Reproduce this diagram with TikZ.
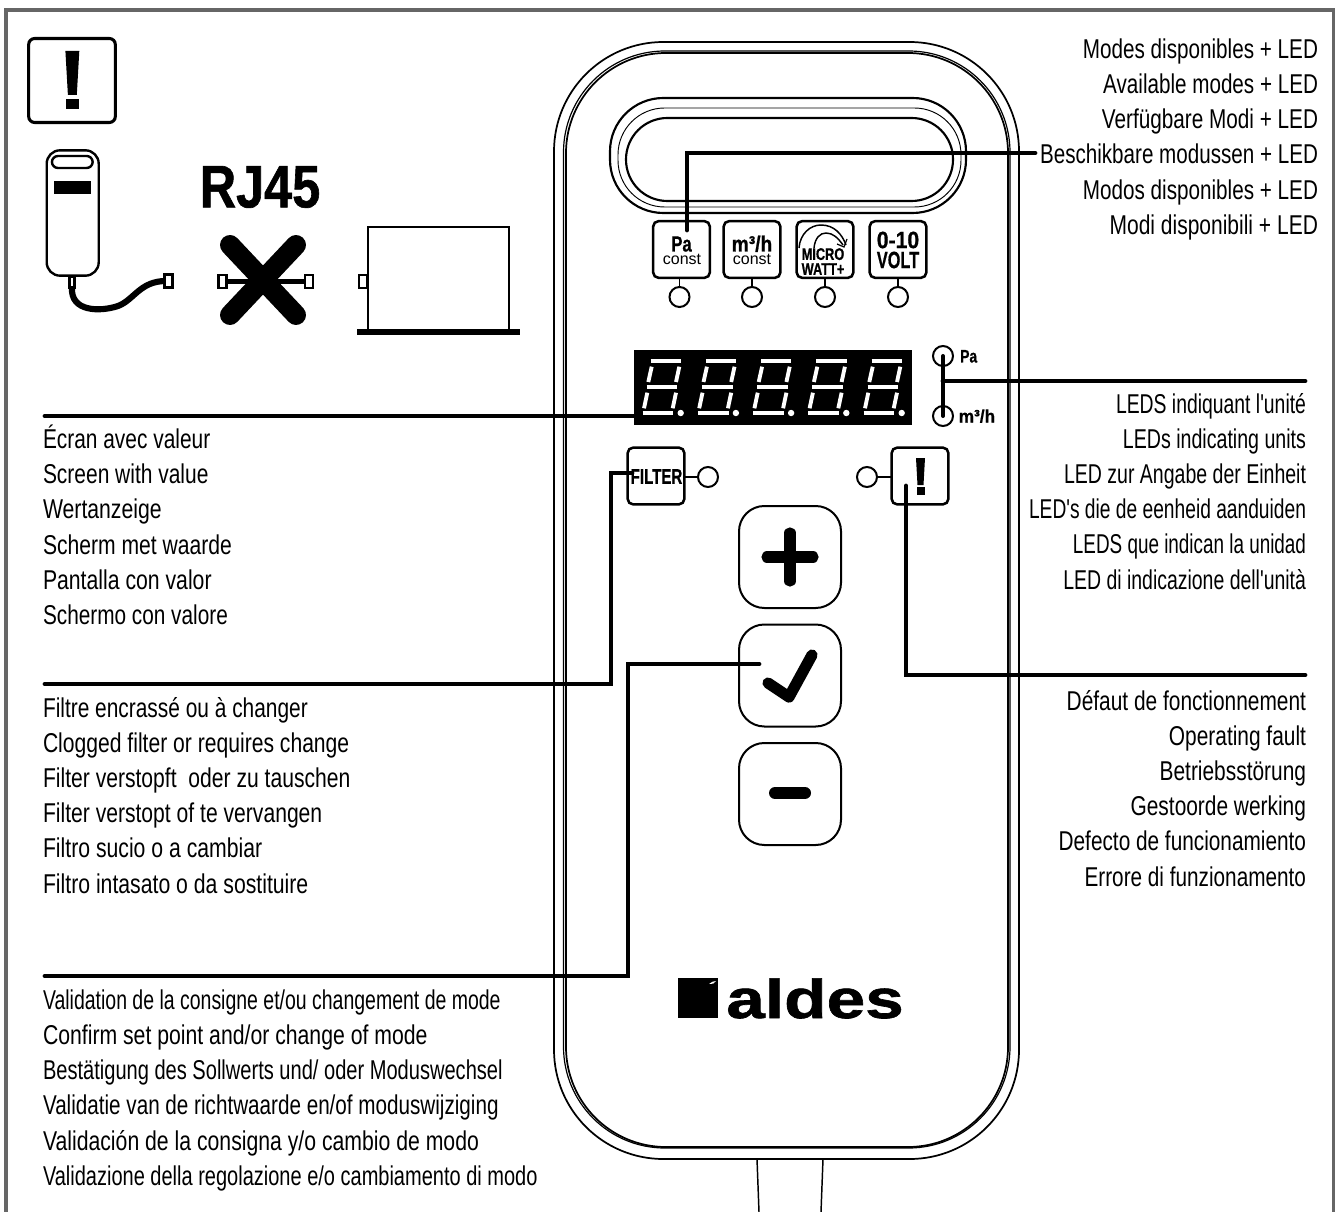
\documentclass[tikz,border=0pt]{standalone}
\usepackage{fontspec}
\usepackage{graphicx}
\setmainfont{Liberation Sans}
\newfontfamily\narrowf{Liberation Sans}[FakeStretch=0.78]
\newfontfamily\condf{Liberation Sans}[FakeStretch=0.76,FakeBold=0.6]
\newfontfamily\rjf{Liberation Sans}[FakeStretch=0.84,FakeBold=1]
\newfontfamily\logof{Liberation Sans}[FakeStretch=1.27,FakeBold=1.2]
\newcommand{\sx}[2]{\scalebox{#1}[1]{#2}}
\definecolor{framegray}{HTML}{666666}
\tikzset{
  x=0.75pt,y=-0.75pt,
  leader/.style={line width=3.6pt,line cap=round,line join=miter},
  label/.style={inner sep=0,outer sep=0,font=\narrowf\fontsize{20.4}{26.4}\selectfont},
  leftlabel/.style={label,anchor=north west,align=left},
  rightlabel/.style={label,anchor=north east,align=right},
  keybox/.style={draw,line width=1.9pt,rounded corners=4pt,inner sep=0,minimum width=42.5pt,minimum height=42.5pt},
  bigkey/.style={draw,line width=1.5pt,rounded corners=19pt,inner sep=0,minimum width=76.5pt,minimum height=76.5pt},
  led/.style={draw,circle,line width=1.5pt,inner sep=0,minimum size=15pt,fill=white},
  stem/.style={line width=1.3pt},
  plug/.style={draw,line width=1.8pt,fill=white,inner sep=0,minimum width=6pt,minimum height=9.6pt},
  keytext/.style={inner sep=0,outer sep=0,align=center},
  seg/.style={draw=white,line width=2.9pt},
}
\begin{document}
\begin{tikzpicture}
\useasboundingbox (0,0) rectangle (1338,1212);
% frame (open at the bottom)
\draw[framegray,line width=2.4pt] (6,1212) -- (6,10) -- (1333.5,10) -- (1333.5,1212);

% warning icon
\node[draw,line width=2.3pt,rounded corners=4.5pt,inner sep=0,minimum width=65pt,minimum height=63pt] (warnbox) at (72,80.5) {};
\fill (65.4,51) -- (79.3,51) -- (76.8,95) -- (67.9,95) -- cycle;
\fill (66,99.5) rectangle (78.6,109);

% small remote icon
\node[plug,minimum width=4pt,minimum height=8pt] (remplug) at (72,282) {};
\draw[line width=4.6pt] (72,287) .. controls (70,312) and (100,312) .. (118,306) .. controls (134,300) and (140,281) .. (166,281);
\node[draw,line width=1.8pt,rounded corners=10pt,fill=white,inner sep=0,minimum width=39pt,minimum height=94pt] (remote) at (72.7,213) {};
\node[draw,line width=1.8pt,rounded corners=4.5pt,inner sep=0,minimum width=30.5pt,minimum height=9pt] (rempill) at (72.3,162) {};
\fill (53.6,181) rectangle (91,194);
\node[plug] (cableend) at (168.5,281) {};

% RJ45
\node[inner sep=0,font=\rjf\bfseries\fontsize{45}{45}\selectfont] (rj) at (260,187) {RJ45};
\node[plug] (xl) at (222.5,281.5) {};
\node[plug] (xr) at (309,281.5) {};
\draw[line width=4.4pt] (xl) -- (xr);
\draw[line width=15pt,line cap=round] (230,245) -- (296,315);
\draw[line width=15pt,line cap=round] (296,245) -- (230,315);

% unit box
\node[plug] (boxplug) at (363,281.5) {};
\node[draw,line width=1.9pt,inner sep=0,minimum width=106pt,minimum height=78pt] (unit) at (438.5,279) {};
\draw[line width=3.8pt] (357,332) -- (520,332);

% device body
\draw[line width=1.3pt,rounded corners=82pt] (554,1159) rectangle (1019,42);
\draw[line width=0.9pt,rounded corners=76pt] (563.5,1148) rectangle (1010,51);
\draw[line width=1.3pt,rounded corners=75pt] (566,1147) rectangle (1008,53);
\draw[line width=1.1pt] (757,1159) -- (759,1212);
\draw[line width=1.1pt] (823,1159) -- (821,1212);

% window
\draw[line width=1.6pt,rounded corners=40pt] (610,213) rectangle (966,98);
\draw[line width=0.7pt,rounded corners=35pt] (618,207) rectangle (961,108);
\draw[line width=1.6pt,rounded corners=31pt] (626,201) rectangle (953,118);

% mode keys
\node[keybox] (kpa) at (681.5,249.5) {};
\node[keybox] (kmh) at (752,249.5) {};
\node[keybox] (kmw) at (825,249.5) {};
\node[keybox] (kv) at (898,249.5) {};
\node[keytext,anchor=base,font=\condf\bfseries\fontsize{16.5}{16.5}\selectfont] (tpa) at (681.5,251.5) {Pa};
\node[keytext,anchor=base,font=\fontsize{12}{12}\selectfont] (cpa) at (682,265) {const};
\node[keytext,anchor=base,font=\condf\bfseries\fontsize{16.5}{16.5}\selectfont] (tmh) at (752,251.5) {\sx{1.15}{m³/h}};
\node[keytext,anchor=base,font=\fontsize{12}{12}\selectfont] (cmh) at (752,265) {const};
\node[keytext,font=\condf\bfseries\fontsize{12.6}{11.2}\selectfont] (tmw) at (823,261.5) {MICRO\\WATT+};
\node[keytext,font=\condf\bfseries\fontsize{17.7}{15}\selectfont] (tv) at (898,250) {\sx{1.18}{0-10}\\\sx{.91}{VOLT}};
\draw[line width=1.1pt] (799,248) .. controls (800,234) and (810,225) .. (821,225) .. controls (834,225) and (842,234) .. (846,245);
\draw[line width=1.1pt] (814,248) .. controls (815,238) and (820,233) .. (826,233) .. controls (833,233) and (838,238) .. (843,245);
\draw[line width=0.9pt] (837,244) -- (844,247) -- (847,239);

\node[led] (lpa) at (679.5,297) {};
\node[led] (lmh) at (752,297) {};
\node[led] (lmw) at (825,297) {};
\node[led] (lv) at (898,297) {};
\draw[stem] (679.5,278) -- (lpa.north);
\draw[stem] (kmh.south) -- (lmh.north);
\draw[stem] (kmw.south) -- (lmw.north);
\draw[stem] (kv.south) -- (lv.north);

% seven segment display
\fill (634,350) rectangle (912,425);
\foreach \d in {0,55.2,110.4,165.6,221}{
  \begin{scope}[xshift=\d*0.75pt]
    \draw[seg] (650.7,360.7) -- (681,360.7);
    \draw[seg] (646.7,387) -- (677.3,387);
    \draw[seg] (642.7,412.7) -- (673.3,412.7);
    \draw[seg] (651.7,366.7) -- (648.3,382);
    \draw[seg] (679.3,366.7) -- (676,382);
    \draw[seg] (647.3,392.7) -- (644,408.3);
    \draw[seg] (676,392.7) -- (672.7,408.3);
    \fill[white] (680.7,413) circle (2.4pt);
  \end{scope}
}

% unit LEDs
\node[led] (lunitpa) at (943,356) {};
\node[led] (lunitmh) at (943,416) {};
\node[inner sep=0,anchor=base west,font=\condf\bfseries\fontsize{13.6}{13.6}\selectfont] (tunitpa) at (960,362.5) {Pa};
\node[inner sep=0,anchor=base west,font=\condf\bfseries\fontsize{13.6}{13.6}\selectfont] (tunitmh) at (958.5,422.5) {\sx{1.25}{m³/h}};

% filter and fault keys
\node[keybox] (kfilter) at (656,476) {};
\node[keytext,font=\condf\bfseries\fontsize{16}{16}\selectfont] (tfilter) at (656.5,476.5) {\sx{.93}{FILTER}};
\node[led] (lfilter) at (708,477) {};
\draw[stem] (684,477) -- (lfilter.west);
\node[keybox] (kfault) at (920,476) {};
\node[led] (lfault) at (867,477) {};
\draw[stem] (lfault.east) -- (892,477);
\fill (916,458) -- (925,458) -- (923.5,485) -- (917.5,485) -- cycle;
\fill (916.5,487) rectangle (924.5,495);

% + check - keys
\node[bigkey] (kplus) at (790,557) {};
\node[bigkey] (kcheck) at (790,675.5) {};
\node[bigkey] (kminus) at (790,794) {};
\draw[line width=8.4pt,line cap=round] (767,557) -- (813,557);
\draw[line width=8.4pt,line cap=round] (790,533) -- (790,581);
\draw[line width=8.4pt,line cap=round,line join=round] (768,683) -- (789,697) -- (812,655);
\draw[line width=9pt,line cap=round] (775,793) -- (805,793);

% logo
\fill (678,978) rectangle (718,1018);
\fill[white] (709,984) .. controls (711,982) and (714,981) .. (716,981) .. controls (715,983) and (712,985) .. (709,984) -- cycle;
\node[inner sep=0,anchor=base west,font=\logof\bfseries\fontsize{41}{41}\selectfont] (logo) at (726,1018) {aldes};

% leaders
\coordinate (paTip) at (687,230);
\coordinate (paCorner) at (687,153);
\coordinate (paEnd) at (1035,153);
\draw[leader] (paTip) -- (paCorner) -- (paEnd);
\coordinate (dispL) at (634,416);
\coordinate (dispEnd) at (45,416);
\draw[leader] (dispL) -- (dispEnd);
\coordinate (unitJoin) at (943,381);
\coordinate (unitEnd) at (1305,381);
\draw[line width=3pt,line cap=round] (lunitpa.center) -- (lunitmh.center);
\draw[leader] (unitJoin) -- (unitEnd);
\coordinate (filTip) at (632,473);
\coordinate (filC1) at (611,473);
\coordinate (filC2) at (611,684);
\coordinate (filEnd) at (45,684);
\draw[leader] (filTip) -- (filC1) -- (filC2) -- (filEnd);
\coordinate (chkTip) at (759,664);
\coordinate (chkC1) at (628,664);
\coordinate (chkC2) at (628,976);
\coordinate (chkEnd) at (45,976);
\draw[leader] (chkTip) -- (chkC1) -- (chkC2) -- (chkEnd);
\coordinate (fauTip) at (906,486);
\coordinate (fauC) at (906,675);
\coordinate (fauEnd) at (1305,675);
\draw[leader] (fauTip) -- (fauC) -- (fauEnd);

% labels
\node[rightlabel] (modes) at (1318,38.5) {\sx{.975}{Modes disponibles + LED}\\\sx{.973}{Available modes + LED}\\\sx{.977}{Verfügbare Modi + LED}\\\sx{.972}{Beschikbare modussen + LED}\\\sx{.975}{Modos disponibles + LED}\\\sx{.99}{Modi disponibili + LED}};
\node[rightlabel] (units) at (1306,393) {\sx{.913}{LEDS indiquant l'unité}\\\sx{.924}{LEDs indicating units}\\\sx{.92}{LED zur Angabe der Einheit}\\\sx{.905}{LED's die de eenheid aanduiden}\\\sx{.89}{LEDS que indican la unidad}\\\sx{.917}{LED di indicazione dell'unità}};
\node[rightlabel] (fault) at (1306,690) {\sx{.985}{Défaut de fonctionnement}\\\sx{.985}{Operating fault}\\\sx{.985}{Betriebsstörung}\\\sx{.985}{Gestoorde werking}\\\sx{.98}{Defecto de funcionamiento}\\\sx{.978}{Errore di funzionamento}};
\node[leftlabel] (screen) at (43,425) {\sx{.985}{Écran avec valeur}\\\sx{.988}{Screen with value}\\Wertanzeige\\\sx{.995}{Scherm met waarde}\\Pantalla con valor\\\sx{.98}{Schermo con valore}};
\node[leftlabel] (filter) at (43,697) {\sx{.985}{Filtre encrassé ou à changer}\\\sx{.995}{Clogged filter or requires change}\\\sx{.995}{Filter verstopft\ \ oder zu tauschen}\\\sx{.995}{Filter verstopt of te vervangen}\\Filtro sucio o a cambiar\\Filtro intasato o da sostituire};
\node[leftlabel] (valid) at (43,989.5) {\sx{.918}{Validation de la consigne et/ou changement de mode}\\Confirm set point and/or change of mode\\\sx{.946}{Bestätigung des Sollwerts und/ oder Moduswechsel}\\\sx{.974}{Validatie van de richtwaarde en/of moduswijziging}\\Validación de la consigna y/o cambio de modo\\\sx{.943}{Validazione della regolazione e/o cambiamento di modo}};
\end{tikzpicture}
\end{document}
